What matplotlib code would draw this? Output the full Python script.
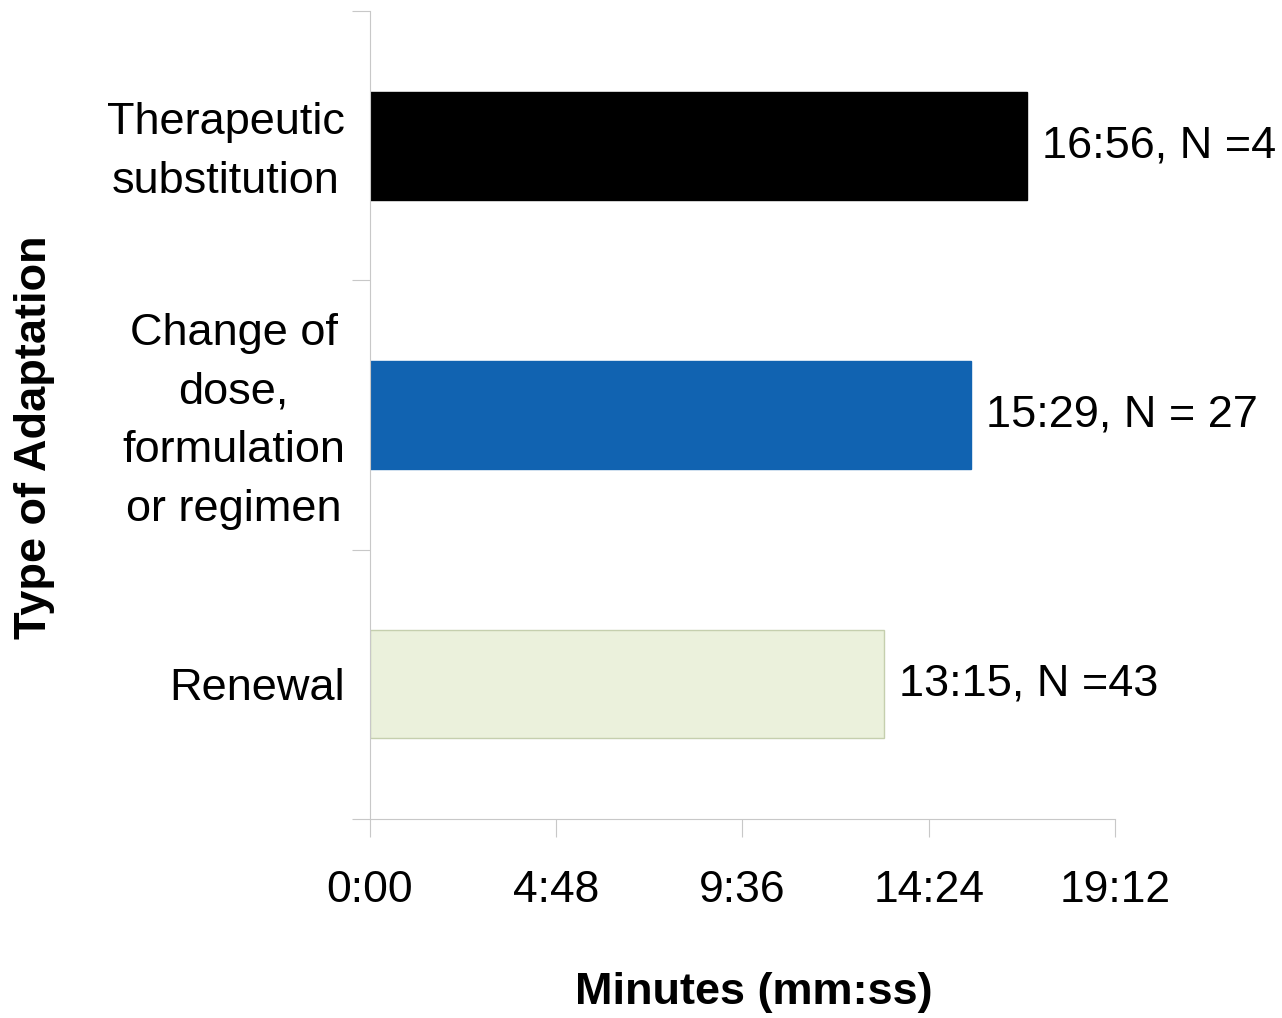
import matplotlib.pyplot as plt
import matplotlib.transforms as mtransforms
from matplotlib.ticker import FuncFormatter

plt.rcParams['font.family'] = ['Liberation Sans', 'DejaVu Sans']

categories = ['Renewal', 'Change of\ndose,\nformulation\nor regimen', 'Therapeutic\nsubstitution']
times = ['13:15', '15:29', '16:56']
counts = ['N =43', 'N = 27', 'N =4']
colors = ['#ebf1dc', '#1163b1', '#000000']
edges = ['#c5cfae', '#1163b1', '#000000']
xticks = [0, 288, 576, 864, 1152]


def to_sec(s):
    m, sec = s.split(':')
    return int(m) * 60 + int(sec)


def mmss(v, pos=None):
    v = int(round(v))
    return '%d:%02d' % (v // 60, v % 60)


secs = [to_sec(t) for t in times]
y = list(range(len(categories)))

fig = plt.figure(figsize=(12.82, 10.18), dpi=100)
ax = fig.add_axes([0.2886, 0.1955, 0.5811, 0.7937])

ax.barh(y, secs, height=0.4, color=colors, edgecolor=edges, linewidth=1)
for yi, s, t, n in zip(y, secs, times, counts):
    ax.text(s + 23, yi, t + ', ' + n, va='center', ha='left', fontsize=32.5)

ax.set_xlim(0, 1152)
ax.set_ylim(-0.5, 2.5)
ax.set_xticks(xticks)
ax.xaxis.set_major_formatter(FuncFormatter(mmss))
ax.set_yticks([-0.5, 0.5, 1.5, 2.5], minor=False)
ax.set_yticklabels([])
ax.set_yticks(y, minor=True)
ax.set_yticklabels(categories, minor=True, fontsize=32.5, ha='right',
                   multialignment='center', linespacing=1.55)
ax.tick_params(axis='y', which='minor', length=0, pad=18)
ax.tick_params(axis='y', which='major', length=13, color='#c8c8c8')
ax.tick_params(axis='x', length=13, color='#c8c8c8', labelsize=32, pad=24)

# nudge multi-line category labels up a little
shift = mtransforms.ScaledTranslation(0, 7 / 100, fig.dpi_scale_trans)
for lab in ax.get_yticklabels(minor=True):
    if '\n' in lab.get_text():
        lab.set_transform(lab.get_transform() + shift)

for side in ['top', 'right']:
    ax.spines[side].set_visible(False)
for side in ['left', 'bottom']:
    ax.spines[side].set_color('#c8c8c8')

fig.text(0.588, 0.025, 'Minutes (mm:ss)', ha='center', va='center', fontsize=32.5, fontweight='bold')
fig.text(0.027, 0.57, 'Type of Adaptation', ha='center', va='center', rotation=90, fontsize=32.5, fontweight='bold')

fig.savefig('out.png', dpi=100)
